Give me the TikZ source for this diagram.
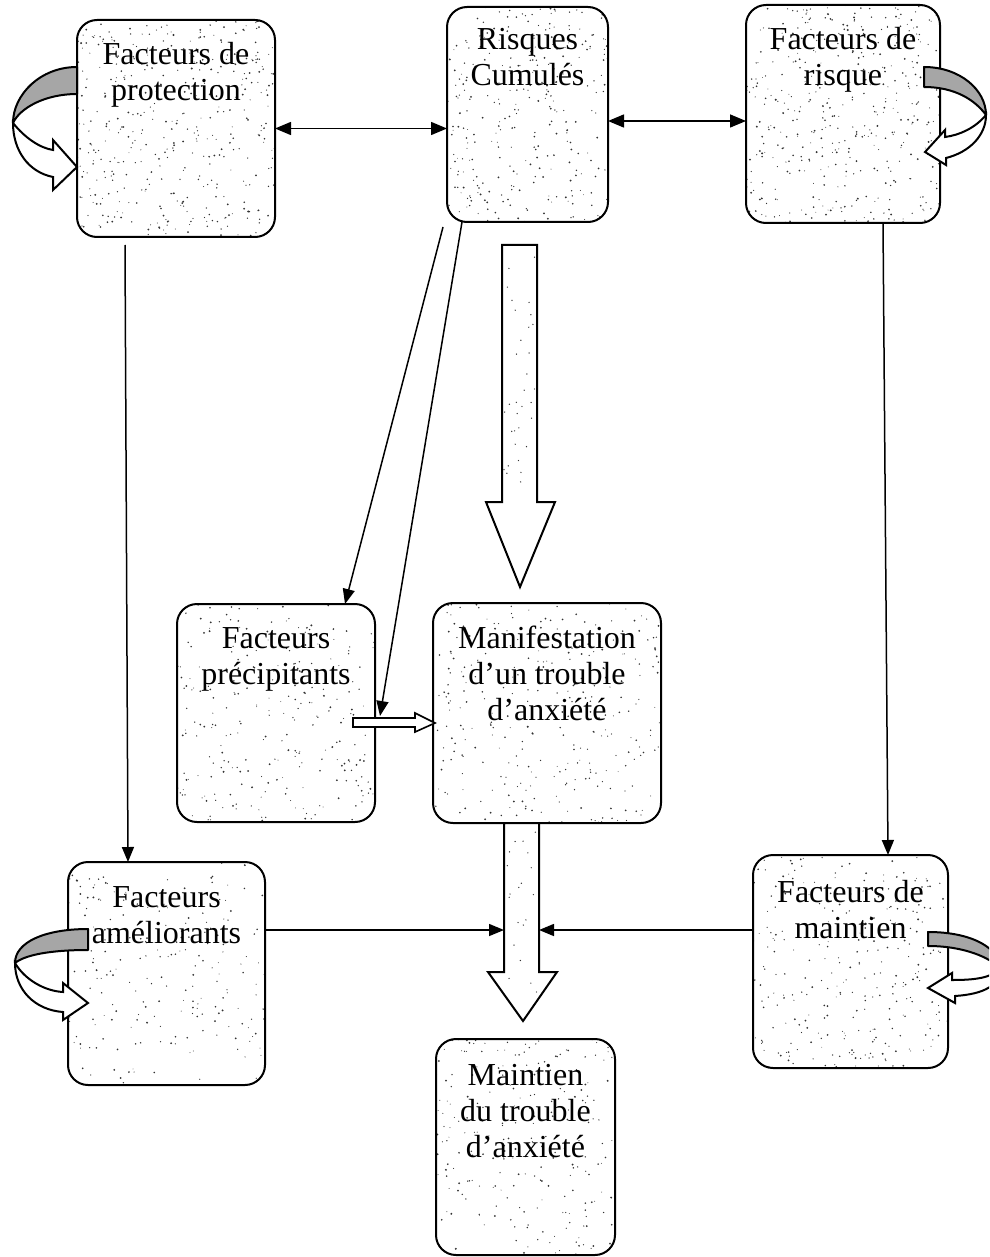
\documentclass[tikz,border=0pt]{standalone}
\usepackage{fontspec}
\setmainfont{Liberation Serif}
\usetikzlibrary{arrows.meta,calc}
\newcommand\boxlines[1]{\begin{tabular}[t]{@{}c@{}}#1\end{tabular}}
\newcommand\speckbox[5]{%
  \begin{scope}
    \clip[rounded corners=20pt] (#1,#2) rectangle (#3,#4);
    \foreach \k in {1,...,#5}{%
      \pgfmathsetmacro\sx{#1+rnd*(#3-#1)}%
      \pgfmathsetmacro\sy{#2+rnd*(#4-#2)}%
      \pgfmathsetmacro\sr{0.45+0.6*rnd}%
      \fill[speck] (\sx,\sy) circle[radius=\sr];
    }
  \end{scope}}
\tikzset{
  box/.style={draw=black, line width=2pt, rounded corners=20pt, inner sep=0pt, outer sep=0pt},
  lbl/.style={font=\fontsize{32}{36}\selectfont, anchor=base, inner sep=0pt},
  conn/.style={line width=1.5pt, -{Triangle[length=15pt,width=12pt]}},
  dconn/.style={line width=1.5pt, {Triangle[length=16pt,width=13pt]}-{Triangle[length=16pt,width=13pt]}},
  blockarrow/.style={draw=black, line width=2pt, fill=white, line join=miter},
  curlback/.style={draw=black, line width=2pt, fill=black!35, line join=round},
  curlfront/.style={draw=black, line width=2pt, fill=white, line join=miter},
  speck/.style={fill=black!80},
}
\begin{document}
\begin{tikzpicture}[x=1pt,y=-1pt]
\useasboundingbox (0,0) rectangle (989,1257);
\clip (0,0) rectangle (989,1257);
\fill[white] (0,0) rectangle (989,1257);
\pgfmathsetseed{4242}

% speckle texture
\speckbox{77}{20}{275}{237}{420}
\speckbox{447}{7}{608}{222}{300}
\speckbox{746}{5}{940}{223}{420}
\speckbox{177}{604}{375}{822}{260}
\speckbox{433}{603}{661}{823}{300}
\speckbox{68}{862}{265}{1085}{220}
\speckbox{753}{855}{948}{1068}{300}
\speckbox{436}{1039}{615}{1255}{230}

% boxes
\node[box, minimum width=198pt, minimum height=217pt] (prot) at (176,128.5) {};
\node[box, minimum width=161pt, minimum height=215pt] (risq) at (527.5,114.5) {};
\node[box, minimum width=194pt, minimum height=218pt] (risk) at (843,114) {};
\node[box, minimum width=198pt, minimum height=218pt] (prec) at (276,713) {};
\node[box, minimum width=228pt, minimum height=220pt] (manif) at (547,713) {};
\node[box, minimum width=197pt, minimum height=223pt] (amel) at (166.5,973.5) {};
\node[box, minimum width=195pt, minimum height=213pt] (maint) at (850.5,961.5) {};
\node[box, minimum width=179pt, minimum height=216pt] (mdt) at (525.5,1147) {};

% labels
\node[lbl] (prot-t) at (176,65) {\boxlines{Facteurs de\\protection}};
\node[lbl] (risq-t) at (527.5,50) {\boxlines{Risques\\Cumulés}};
\node[lbl] (risk-t) at (843,50) {\boxlines{Facteurs de\\risque}};
\node[lbl] (prec-t) at (276,648) {\boxlines{Facteurs\\précipitants}};
\node[lbl] (manif-t) at (547,648) {\boxlines{Manifestation\\d’un trouble\\d’anxiété}};
\node[lbl] (amel-t) at (166.5,907) {\boxlines{Facteurs\\améliorants}};
\node[lbl] (maint-t) at (850.5,902) {\boxlines{Facteurs de\\maintien}};
\node[lbl] (mdt-t) at (525.5,1085) {\boxlines{Maintien\\du trouble\\d’anxiété}};

% block arrows
\draw[blockarrow] (502,245) -- (537,245) -- (537,502) -- (555,502) -- (520,587) -- (486,502) -- (502,502) -- cycle;
\draw[blockarrow] (504,823) -- (539,823) -- (539,972) -- (557,972) -- (523,1021) -- (488,972) -- (504,972) -- cycle;
\begin{scope}
  \clip (502,245) rectangle (537,502);
  \foreach \k in {1,...,45}{\pgfmathsetmacro\sx{504+rnd*31}\pgfmathsetmacro\sy{248+rnd*330}\fill[speck] (\sx,\sy) circle[radius=0.7];}
\end{scope}
\begin{scope}
  \clip (504,825) rectangle (539,1000);
  \foreach \k in {1,...,20}{\pgfmathsetmacro\sx{507+rnd*30}\pgfmathsetmacro\sy{828+rnd*170}\fill[speck] (\sx,\sy) circle[radius=0.7];}
\end{scope}
\draw[blockarrow, line width=1.6pt] (353,718) -- (415,718) -- (415,713) -- (435,723) -- (415,732) -- (415,727) -- (353,727) -- cycle;

% connector anchor points
\coordinate (p1) at (125,245);
\coordinate (r1) at (443,227);
\coordinate (h1) at (380,716);
\coordinate (ba2l) at (504,930);
\coordinate (ba2r) at (539,930);

% connectors
\draw[dconn] (prot.east) -- (prot.east -| risq.west);
\draw[dconn] ([yshift=-6.5pt]risq.east) -- ([yshift=-6.5pt]risq.east -| risk.west);
\draw[conn] (p1) -- ([xshift=-38.5pt]amel.north);
\draw[conn] ([xshift=40pt]risk.south) -- ([xshift=37.5pt]maint.north);
\draw[conn] (r1) -- ([xshift=69pt]prec.north);
\draw[conn] ([xshift=15pt]risq.south west) -- (h1);
\draw[conn] ([yshift=43.5pt]amel.east) -- (ba2l);
\draw[conn] ([yshift=31.5pt]maint.west) -- (ba2r);

% curved self arrows
% protection (left)
\draw[curlback] (77,67) .. controls (40,67) and (13,95) .. (13,123) .. controls (20,108) and (45,94) .. (77,94) -- cycle;
\draw[curlfront] (13,123) .. controls (25,138) and (40,148) .. (53,150) -- (53,140) -- (77,167) -- (53,190) -- (53,177) .. controls (28,172) and (13,150) .. (13,123) -- cycle;
% ameliorants (left)
\draw[curlback] (88,929) .. controls (45,929) and (15,942) .. (15,963) .. controls (25,955) and (50,950) .. (88,950) -- cycle;
\draw[curlfront] (15,963) .. controls (25,980) and (45,991) .. (63,992) -- (63,983) -- (88,1003) -- (63,1020) -- (63,1012) .. controls (35,1010) and (15,990) .. (15,963) -- cycle;
% risque (right)
\draw[curlback] (924,67) .. controls (960,67) and (986,90) .. (986,115) .. controls (975,100) and (955,87) .. (924,87) -- cycle;
\draw[curlfront] (986,115) .. controls (975,128) and (960,135) .. (945,137) -- (945,130) -- (925,152) -- (946,165) -- (946,158) .. controls (970,152) and (986,135) .. (986,115) -- cycle;
% maintien (right)
\draw[curlback] (928,932) .. controls (975,932) and (1000,950) .. (1000,968) .. controls (990,958) and (965,946) .. (928,946) -- cycle;
\draw[curlfront] (1000,968) .. controls (992,978) and (975,980) .. (952,980) -- (952,973) -- (928,988) -- (955,1003) -- (955,996) .. controls (985,994) and (1000,985) .. (1000,968) -- cycle;
\end{tikzpicture}
\end{document}
